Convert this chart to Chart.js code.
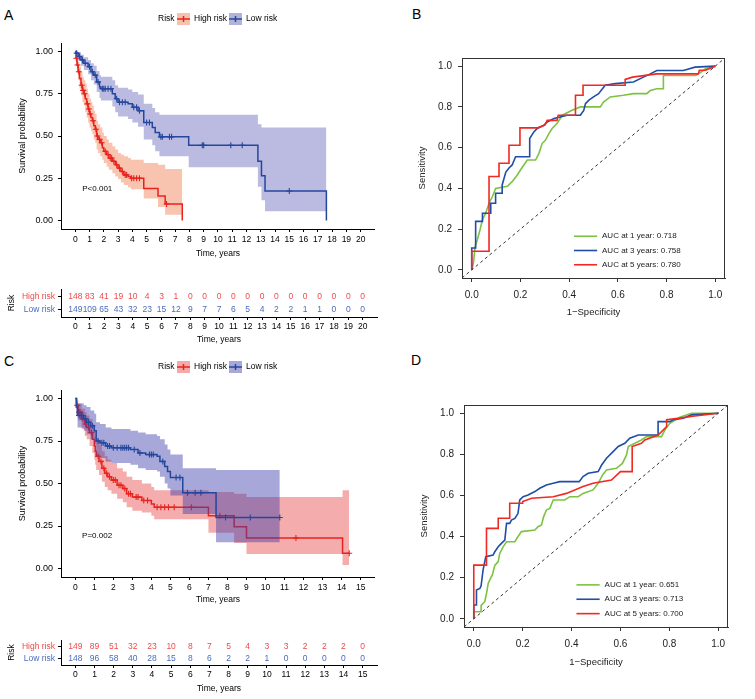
<!DOCTYPE html>
<html>
<head>
<meta charset="utf-8">
<script src="https://cdn.jsdelivr.net/npm/chart.js@4"></script>
<style>
body { margin: 0; background: #fff; width: 755px; height: 699px; position: relative; overflow: hidden; font-family: "Liberation Sans", Arial, sans-serif; }
canvas { position: absolute; }
.lab { position: absolute; font-size: 14px; line-height: 14px; color: #000; }
</style>
</head>
<body>
<div class="lab" style="left:4px;top:8px">A</div>
<div class="lab" style="left:412px;top:7px">B</div>
<div class="lab" style="left:4px;top:354px">C</div>
<div class="lab" style="left:411px;top:353px">D</div>

<canvas id="kmA" width="380" height="261" style="left:0;top:0"></canvas>
<canvas id="riskA" width="380" height="75" style="left:0;top:270px"></canvas>
<canvas id="kmC" width="380" height="265" style="left:0;top:340px"></canvas>
<canvas id="riskC" width="380" height="72" style="left:0;top:622px"></canvas>
<canvas id="rocB" width="375" height="318" style="left:380px;top:0"></canvas>
<canvas id="rocD" width="375" height="328" style="left:380px;top:340px"></canvas>

<script>
// ---- data ----
var groups = ['High risk', 'Low risk'];

// panel A, Kaplan-Meier
var aHighT  = [0,0.05,0.12,0.2,0.3,0.4,0.5,0.6,0.7,0.8,0.9,1.0,1.1,1.2,1.3,1.4,1.5,1.6,1.75,1.9,2.0,2.2,2.35,2.6,2.8,3.0,3.2,3.4,3.7,3.9,4.8,5.8,6.3,7.5];
var aHighS  = [1,0.96,0.92,0.88,0.84,0.80,0.77,0.75,0.72,0.69,0.66,0.63,0.61,0.59,0.56,0.54,0.50,0.48,0.46,0.43,0.41,0.39,0.37,0.35,0.33,0.31,0.29,0.27,0.26,0.25,0.19,0.145,0.098,0];
var aHighUp = [1,0.99,0.97,0.94,0.91,0.88,0.85,0.83,0.81,0.78,0.75,0.72,0.70,0.68,0.65,0.63,0.59,0.57,0.55,0.52,0.50,0.48,0.46,0.44,0.42,0.40,0.39,0.38,0.37,0.36,0.34,0.33,0.305,0.305];
var aHighLo = [1,0.93,0.88,0.83,0.78,0.74,0.70,0.68,0.64,0.61,0.58,0.55,0.53,0.51,0.48,0.46,0.42,0.40,0.38,0.36,0.34,0.32,0.30,0.28,0.26,0.245,0.225,0.21,0.195,0.185,0.13,0.08,0.035,0.035];
var aHighCensT = [0.08,0.16,0.25,0.45,0.55,0.65,0.85,0.95,1.05,1.25,1.45,1.55,1.7,1.85,2.1,2.3,2.45,2.55,2.7,2.9,3.1,3.3,3.5,3.6,3.95,4.1,4.3,4.5,6.4];
var aHighCensS = [0.96,0.92,0.88,0.80,0.77,0.75,0.69,0.66,0.63,0.59,0.54,0.50,0.48,0.46,0.41,0.39,0.37,0.37,0.35,0.33,0.31,0.29,0.27,0.27,0.25,0.25,0.25,0.25,0.098];

var aLowT  = [0,0.05,0.2,0.4,0.6,0.9,1.1,1.3,1.5,1.7,1.8,2.6,2.8,3.0,3.7,4.0,4.4,4.8,5.4,5.6,5.9,7.95,12.8,13.05,13.3,17.6];
var aLowS  = [1,0.99,0.97,0.95,0.93,0.91,0.88,0.86,0.82,0.79,0.78,0.75,0.72,0.70,0.69,0.67,0.65,0.58,0.55,0.52,0.495,0.445,0.35,0.265,0.175,0];
var aLowUp = [1,1,0.995,0.98,0.965,0.95,0.93,0.915,0.885,0.86,0.85,0.83,0.80,0.785,0.775,0.76,0.745,0.69,0.665,0.64,0.625,0.625,0.57,0.55,0.55,0.55];
var aLowLo = [1,0.97,0.945,0.915,0.89,0.865,0.83,0.805,0.76,0.725,0.71,0.675,0.64,0.615,0.60,0.58,0.555,0.48,0.445,0.41,0.38,0.315,0.20,0.12,0.055,0.055];
var aLowCensT = [0.1,0.3,0.5,0.7,1.0,1.2,1.4,1.6,1.9,2.0,2.1,2.3,2.5,2.9,3.1,3.3,3.5,4.1,4.3,4.5,5.0,5.2,6.0,6.1,6.6,6.75,8.9,9.0,10.9,11.7,15.0];
var aLowCensS = [0.99,0.97,0.95,0.93,0.91,0.88,0.86,0.82,0.78,0.78,0.78,0.78,0.78,0.72,0.70,0.70,0.70,0.67,0.67,0.65,0.58,0.58,0.495,0.495,0.495,0.495,0.445,0.445,0.445,0.445,0.175];

var riskTimesA = [0,1,2,3,4,5,6,7,8,9,10,11,12,13,14,15,16,17,18,19,20];
var aHighRisk = [148,83,41,19,10,4,3,1,0,0,0,0,0,0,0,0,0,0,0,0,0];
var aLowRisk  = [149,109,65,43,32,23,15,12,9,7,7,6,5,4,2,2,1,1,0,0,0];

// panel C, Kaplan-Meier
var cHighT  = [0,0.07,0.16,0.33,0.5,0.6,0.75,0.9,1.0,1.05,1.1,1.25,1.4,1.55,1.7,1.9,2.2,2.5,2.7,3.0,3.5,4.0,4.15,7.0,8.35,9.0,14.05,14.4];
var cHighS  = [1,0.96,0.92,0.88,0.85,0.83,0.80,0.76,0.72,0.69,0.66,0.63,0.59,0.56,0.54,0.52,0.49,0.47,0.44,0.42,0.40,0.38,0.36,0.31,0.245,0.18,0.09,0.09];
var cHighUp = [1,0.99,0.97,0.94,0.92,0.90,0.88,0.85,0.81,0.78,0.76,0.73,0.69,0.66,0.64,0.62,0.59,0.57,0.54,0.52,0.50,0.48,0.46,0.45,0.44,0.42,0.46,0.46];
var cHighLo = [1,0.93,0.87,0.82,0.78,0.76,0.72,0.68,0.64,0.61,0.58,0.55,0.51,0.48,0.46,0.44,0.41,0.39,0.36,0.34,0.33,0.31,0.29,0.21,0.15,0.085,0.02,0.02];
var cHighCensT = [0.1,0.2,0.25,0.4,0.55,0.7,0.85,1.2,1.35,1.5,1.65,1.8,2.0,2.1,2.3,2.4,2.6,2.8,2.9,3.2,3.3,3.6,3.8,4.3,4.5,4.7,4.9,5.2,6.1,7.6,11.6,14.4];
var cHighCensS = [0.96,0.92,0.92,0.88,0.85,0.83,0.80,0.66,0.63,0.59,0.56,0.54,0.52,0.52,0.49,0.49,0.47,0.44,0.44,0.42,0.42,0.40,0.40,0.36,0.36,0.36,0.36,0.36,0.36,0.31,0.18,0.09];

var cLowT  = [0,0.05,0.12,0.45,0.6,0.8,1.0,1.1,1.3,1.6,1.9,2.9,3.3,3.7,4.3,4.45,4.7,4.85,5.0,5.65,7.4,10.75];
var cLowS  = [1,0.95,0.90,0.88,0.86,0.84,0.81,0.75,0.74,0.72,0.71,0.70,0.68,0.67,0.66,0.63,0.60,0.57,0.535,0.445,0.30,0.30];
var cLowUp = [1,1,0.97,0.96,0.95,0.93,0.91,0.86,0.85,0.83,0.82,0.81,0.80,0.79,0.78,0.76,0.73,0.70,0.67,0.59,0.58,0.58];
var cLowLo = [1,0.90,0.83,0.81,0.79,0.76,0.73,0.66,0.65,0.63,0.62,0.61,0.59,0.58,0.57,0.54,0.50,0.47,0.43,0.32,0.155,0.155];
var cLowCensT = [0.2,0.3,0.4,0.55,0.7,0.9,1.2,1.4,1.5,1.7,1.8,2.0,2.2,2.4,2.5,2.6,2.7,2.8,3.1,3.4,3.9,4.0,4.1,4.6,5.3,5.5,5.9,6.3,6.6,7.9,9.2,10.75];
var cLowCensS = [0.90,0.90,0.90,0.88,0.86,0.84,0.75,0.74,0.74,0.72,0.72,0.71,0.71,0.71,0.71,0.71,0.71,0.71,0.70,0.68,0.67,0.67,0.67,0.63,0.535,0.535,0.445,0.445,0.445,0.30,0.30,0.30];

var riskTimesC = [0,1,2,3,4,5,6,7,8,9,10,11,12,13,14,15];
var cHighRisk = [149,89,51,32,23,10,8,7,5,4,3,3,2,2,2,0];
var cLowRisk  = [148,96,58,40,28,15,8,6,2,2,1,0,0,0,0,0];

// panel B, time-dependent ROC
var rocLabelsB = ['AUC at 1 year: 0.718', 'AUC at 3 years: 0.758', 'AUC at 5 years: 0.780'];
var bGreenFpr = [0,0.007,0.014,0.023,0.034,0.044,0.057,0.071,0.085,0.098,0.146,0.166,0.187,0.2,0.214,0.228,0.262,0.276,0.289,0.303,0.317,0.33,0.35,0.372,0.412,0.446,0.528,0.541,0.569,0.623,0.664,0.719,0.733,0.76,0.787,0.787,0.92,0.94,0.96,1];
var bGreenTpr = [0,0.034,0.116,0.148,0.197,0.246,0.278,0.327,0.36,0.40,0.41,0.433,0.466,0.49,0.515,0.539,0.539,0.572,0.62,0.637,0.669,0.694,0.718,0.759,0.783,0.80,0.80,0.824,0.849,0.857,0.865,0.865,0.88,0.889,0.889,0.954,0.954,0.97,0.987,1];
var bBlueFpr = [0,0,0.016,0.016,0.044,0.044,0.078,0.078,0.098,0.098,0.125,0.125,0.14,0.153,0.166,0.18,0.238,0.238,0.255,0.269,0.296,0.31,0.337,0.392,0.446,0.46,0.467,0.48,0.5,0.521,0.548,0.589,0.664,0.705,0.733,0.76,0.869,0.917,1];
var bBlueTpr = [0,0.107,0.107,0.238,0.238,0.278,0.278,0.327,0.327,0.376,0.376,0.417,0.48,0.50,0.515,0.555,0.555,0.645,0.677,0.694,0.71,0.726,0.743,0.759,0.759,0.783,0.816,0.832,0.849,0.865,0.906,0.914,0.922,0.946,0.962,0.979,0.979,0.995,1];
var bRedFpr = [0,0,0.071,0.071,0.112,0.112,0.153,0.153,0.198,0.198,0.27,0.3,0.31,0.35,0.355,0.426,0.426,0.457,0.457,0.63,0.63,0.66,0.76,0.93,0.935,0.96,1];
var bRedTpr = [0,0.091,0.091,0.458,0.458,0.523,0.523,0.612,0.612,0.697,0.697,0.71,0.734,0.734,0.759,0.759,0.857,0.857,0.906,0.906,0.935,0.946,0.962,0.962,0.98,0.98,1];

// panel D, time-dependent ROC
var rocLabelsD = ['AUC at 1 year: 0.651', 'AUC at 3 years: 0.713', 'AUC at 5 years: 0.700'];
var dGreenFpr = [0,0,0.03,0.03,0.045,0.052,0.059,0.065,0.076,0.086,0.1,0.106,0.12,0.134,0.168,0.181,0.195,0.25,0.263,0.277,0.286,0.297,0.311,0.325,0.372,0.393,0.427,0.447,0.488,0.509,0.527,0.543,0.584,0.608,0.625,0.632,0.659,0.686,0.707,0.768,0.782,0.802,0.843,0.891,1];
var dGreenTpr = [0,0.034,0.034,0.065,0.083,0.123,0.172,0.188,0.213,0.26,0.278,0.318,0.35,0.375,0.375,0.40,0.424,0.432,0.448,0.456,0.497,0.529,0.537,0.578,0.578,0.594,0.594,0.61,0.627,0.659,0.70,0.724,0.732,0.756,0.797,0.838,0.854,0.87,0.886,0.886,0.919,0.951,0.98,1,1];
var dBlueFpr = [0,0,0.011,0.011,0.025,0.03,0.038,0.049,0.079,0.086,0.1,0.113,0.127,0.134,0.147,0.154,0.168,0.181,0.188,0.202,0.222,0.25,0.27,0.297,0.325,0.352,0.431,0.447,0.468,0.509,0.523,0.543,0.57,0.591,0.618,0.638,0.673,0.754,0.754,0.802,0.816,0.857,0.891,1];
var dBlueTpr = [0,0.067,0.067,0.14,0.148,0.16,0.237,0.302,0.31,0.326,0.35,0.367,0.383,0.464,0.464,0.48,0.488,0.513,0.578,0.594,0.602,0.619,0.635,0.651,0.659,0.667,0.667,0.692,0.708,0.716,0.748,0.781,0.813,0.838,0.854,0.878,0.894,0.894,0.959,0.959,0.968,0.976,0.992,1];
var dRedFpr = [0,0,0.052,0.052,0.1,0.1,0.147,0.147,0.2,0.2,0.237,0.325,0.379,0.447,0.488,0.563,0.6,0.648,0.648,0.686,0.7,0.754,0.789,0.789,0.843,0.896,1];
var dRedTpr = [0,0.261,0.261,0.44,0.44,0.489,0.489,0.562,0.562,0.57,0.586,0.594,0.61,0.643,0.659,0.675,0.716,0.716,0.838,0.854,0.87,0.894,0.935,0.968,0.976,0.985,1];

var kmYTicks = [0, 0.25, 0.5, 0.75, 1];
var rocTicks = [0, 0.2, 0.4, 0.6, 0.8, 1];

// ---- styles ----
var FONT = '"Liberation Sans", Arial, sans-serif';
Chart.defaults.font.family = FONT;
Chart.defaults.font.size = 9;
Chart.defaults.color = '#000';

var RED = '#E8231F';
var BLUE = '#24479D';
var RED_TXT = '#F04A4A';
var BLUE_TXT = '#4A6CBE';
var ROC_GREEN = '#7DC242';
var ROC_BLUE = '#1F4DA8';
var ROC_RED = '#F02A22';

function pts(xs, ys) {
  return xs.map(function (x, i) { return { x: x, y: ys[i] }; });
}
function setTicks(list) {
  return function (s) { s.ticks = list.map(function (v) { return { value: v }; }); };
}

// legend "Risk  [+] High risk  [+] Low risk" above the KM plots
var kmLegend = {
  id: 'kmLegend',
  afterDraw: function (chart, args, o) {
    if (!o.items) return;
    var ctx = chart.ctx;
    ctx.save();
    ctx.font = '8.5px ' + FONT;
    ctx.textBaseline = 'middle';
    ctx.fillStyle = '#000';
    ctx.fillText('Risk', o.x, o.y);
    o.items.forEach(function (it, i) {
      ctx.fillStyle = it.fill;
      ctx.fillRect(it.x, o.y - 6, 13, 12);
      ctx.strokeStyle = it.line;
      ctx.lineWidth = 1.5;
      ctx.beginPath();
      ctx.moveTo(it.x, o.y); ctx.lineTo(it.x + 13, o.y);
      ctx.moveTo(it.x + 6.5, o.y - 3); ctx.lineTo(it.x + 6.5, o.y + 3);
      ctx.stroke();
      ctx.fillStyle = '#000';
      ctx.fillText(groups[i], it.x + 17, o.y);
    });
    ctx.restore();
  }
};

var pLabel = {
  id: 'pLabel',
  afterDatasetsDraw: function (chart, args, o) {
    if (!o.text) return;
    var ctx = chart.ctx;
    ctx.save();
    ctx.font = '8px ' + FONT;
    ctx.textBaseline = 'middle';
    ctx.fillStyle = '#000';
    ctx.fillText(o.text, chart.scales.x.getPixelForValue(o.at[0]), chart.scales.y.getPixelForValue(o.at[1]));
    ctx.restore();
  }
};

var riskNumbers = {
  id: 'riskNumbers',
  afterDatasetsDraw: function (chart) {
    var ctx = chart.ctx;
    ctx.save();
    ctx.font = '8.5px ' + FONT;
    ctx.textAlign = 'center';
    ctx.textBaseline = 'middle';
    chart.data.datasets.forEach(function (ds, i) {
      ctx.fillStyle = ds.textColor;
      chart.getDatasetMeta(i).data.forEach(function (p, j) {
        ctx.fillText(String(ds.counts[j]), p.x, p.y);
      });
    });
    ctx.restore();
  }
};

var rocLegend = {
  id: 'rocLegend',
  afterDatasetsDraw: function (chart, args, o) {
    if (!o.rows) return;
    var ctx = chart.ctx, xs = chart.scales.x, ys = chart.scales.y;
    ctx.save();
    ctx.font = '8px ' + FONT;
    ctx.textBaseline = 'middle';
    o.rows.forEach(function (r, i) {
      var ds = chart.data.datasets[i];
      var py = ys.getPixelForValue(r);
      ctx.strokeStyle = ds.borderColor;
      ctx.lineWidth = 1.6;
      ctx.beginPath();
      ctx.moveTo(xs.getPixelForValue(o.x0), py);
      ctx.lineTo(xs.getPixelForValue(o.x1), py);
      ctx.stroke();
      ctx.fillStyle = '#222';
      ctx.fillText(ds.label, xs.getPixelForValue(o.tx), py);
    });
    ctx.restore();
  }
};

var boxBorder = {
  id: 'boxBorder',
  afterDraw: function (chart) {
    var a = chart.chartArea, ctx = chart.ctx;
    ctx.save();
    ctx.strokeStyle = '#333';
    ctx.lineWidth = 1;
    ctx.strokeRect(a.left + 0.5, a.top + 0.5, a.right - a.left - 1, a.bottom - a.top);
    ctx.restore();
  }
};

function band(xs, ys, fill, color) {
  return { data: pts(xs, ys), stepped: true, borderWidth: 0, borderColor: 'transparent',
           pointRadius: 0, fill: fill, backgroundColor: color };
}

// index 0 is painted last: low-risk group over high-risk group, each line over its own band
function kmChart(id, o) {
  return new Chart(document.getElementById(id), {
    type: 'line',
    data: {
      datasets: [
        { label: groups[1], data: pts(o.loT, o.loS), stepped: true, borderColor: BLUE, borderWidth: 1.5, pointRadius: 0, fill: false },
        { data: pts(o.loCT, o.loCS), showLine: false, pointStyle: 'cross', pointRadius: 3, pointBorderColor: BLUE, pointBorderWidth: 1.1, borderColor: BLUE },
        band(o.loT, o.loUp, false, null),
        band(o.loT, o.loLo, '-1', o.loBand),
        { label: groups[0], data: pts(o.hiT, o.hiS), stepped: true, borderColor: RED, borderWidth: 1.5, pointRadius: 0, fill: false },
        { data: pts(o.hiCT, o.hiCS), showLine: false, pointStyle: 'cross', pointRadius: 3, pointBorderColor: RED, pointBorderWidth: 1.1, borderColor: RED },
        band(o.hiT, o.hiUp, false, null),
        band(o.hiT, o.hiLo, '-1', o.hiBand)
      ]
    },
    options: {
      responsive: false, animation: false, devicePixelRatio: 1,
      layout: { padding: { top: o.padTop, right: 3, left: 0, bottom: 0 } },
      plugins: {
        legend: { display: false }, tooltip: { enabled: false },
        kmLegend: { x: 158, y: o.legendY, items: [{ x: 177, line: RED, fill: o.hiSwatch }, { x: 229, line: BLUE, fill: o.loSwatch }] },
        pLabel: { text: o.pText, at: o.pAt }
      },
      scales: {
        x: {
          type: 'linear', min: o.xMin, max: o.xMax,
          afterBuildTicks: setTicks(o.xTicks),
          afterFit: function (s) { s.height = o.xH; },
          grid: { drawOnChartArea: false, tickLength: 3, color: '#000' },
          border: { color: '#000' },
          ticks: { font: { size: 8.5 }, padding: 3, maxRotation: 0, autoSkip: false, color: '#000' },
          title: { display: true, text: 'Time, years', font: { size: 8.5 }, padding: { top: 0, bottom: o.xTitlePad } }
        },
        y: {
          min: -0.05, max: 1.05,
          afterBuildTicks: setTicks(kmYTicks),
          afterFit: function (s) { s.width = 61; },
          grid: { drawOnChartArea: false, tickLength: 3, color: '#000' },
          border: { color: '#000' },
          ticks: { font: { size: 9 }, padding: 5, color: '#000', callback: function (v) { return v.toFixed(2); } },
          title: { display: true, text: 'Survival probability', font: { size: 9 }, padding: { top: 17, bottom: 0 } }
        }
      }
    },
    plugins: [kmLegend, pLabel]
  });
}

function riskChart(id, o) {
  return new Chart(document.getElementById(id), {
    type: 'scatter',
    data: {
      datasets: [
        { label: groups[0], data: o.times.map(function (t) { return { x: t, y: 2 }; }), counts: o.hi, textColor: RED_TXT, pointRadius: 0 },
        { label: groups[1], data: o.times.map(function (t) { return { x: t, y: 1 }; }), counts: o.lo, textColor: BLUE_TXT, pointRadius: 0 }
      ]
    },
    options: {
      responsive: false, animation: false, devicePixelRatio: 1,
      layout: { padding: { top: o.padTop, right: 3, left: 0, bottom: 0 } },
      plugins: { legend: { display: false }, tooltip: { enabled: false } },
      scales: {
        x: {
          type: 'linear', min: o.xMin, max: o.xMax,
          afterBuildTicks: setTicks(o.times),
          afterFit: function (s) { s.height = o.xH; },
          grid: { drawOnChartArea: false, tickLength: 3, color: '#000' },
          border: { color: '#000' },
          ticks: { font: { size: 8.5 }, padding: 2, maxRotation: 0, autoSkip: false, color: '#000' },
          title: { display: true, text: 'Time, years', font: { size: 8.5 }, padding: { top: 0, bottom: 0 } }
        },
        y: {
          min: 0.4, max: 2.6,
          afterBuildTicks: setTicks([1, 2]),
          afterFit: function (s) { s.width = 61; },
          grid: { drawOnChartArea: false, tickLength: 3, color: '#000' },
          border: { color: '#000' },
          ticks: {
            font: { size: 8.5 }, padding: 3,
            color: function (c) { return c.tick && c.tick.value === 2 ? RED_TXT : BLUE_TXT; },
            callback: function (v) { return v === 2 ? groups[0] : groups[1]; }
          },
          title: { display: true, text: 'Risk', font: { size: 8.5 }, padding: { top: 7, bottom: 0 } }
        }
      }
    },
    plugins: [riskNumbers]
  });
}

function rocChart(id, o) {
  var line = function (label, fpr, tpr, color, ord) {
    return { label: label, data: pts(fpr, tpr), borderColor: color, borderWidth: 1.6, pointRadius: 0, fill: false, order: ord, tension: 0 };
  };
  return new Chart(document.getElementById(id), {
    type: 'line',
    data: {
      datasets: [
        line(o.labels[0], o.gF, o.gT, ROC_GREEN, 3),
        line(o.labels[1], o.bF, o.bT, ROC_BLUE, 2),
        line(o.labels[2], o.rF, o.rT, ROC_RED, 1),
        { data: [{ x: -0.04, y: -0.04 }, { x: 1.04, y: 1.04 }], borderColor: '#333', borderWidth: 1, borderDash: [3, 3], pointRadius: 0, fill: false, order: 0 }
      ]
    },
    options: {
      responsive: false, animation: false, devicePixelRatio: 1,
      layout: { padding: { top: o.padTop, right: o.padRight, left: 0, bottom: 0 } },
      plugins: {
        legend: { display: false }, tooltip: { enabled: false },
        rocLegend: { x0: 0.42, x1: 0.515, tx: 0.535, rows: [0.165, 0.095, 0.025] }
      },
      scales: {
        x: {
          type: 'linear', min: -0.04, max: 1.04,
          afterBuildTicks: setTicks(rocTicks),
          afterFit: function (s) { s.height = o.xH; },
          grid: { drawOnChartArea: false, tickLength: 4, color: '#333' },
          border: { color: '#333' },
          ticks: { font: { size: 10 }, padding: 7, color: '#222', maxRotation: 0, callback: function (v) { return v.toFixed(1); } },
          title: { display: true, text: '1\u2212Specificity', font: { size: 9.5 }, color: '#222', padding: { top: 0, bottom: 0 } }
        },
        y: {
          min: -0.04, max: 1.04,
          afterBuildTicks: setTicks(rocTicks),
          afterFit: function (s) { s.width = o.yW; },
          grid: { drawOnChartArea: false, tickLength: 4, color: '#333' },
          border: { color: '#333' },
          ticks: { font: { size: 10 }, padding: 6, color: '#222', callback: function (v) { return v.toFixed(1); } },
          title: { display: true, text: 'Sensitivity', font: { size: 9.5 }, color: '#222', padding: { top: o.yTitlePad, bottom: 0 } }
        }
      }
    },
    plugins: [rocLegend, boxBorder]
  });
}

kmChart('kmA', {
  hiT: aHighT, hiS: aHighS, hiUp: aHighUp, hiLo: aHighLo, hiCT: aHighCensT, hiCS: aHighCensS,
  loT: aLowT, loS: aLowS, loUp: aLowUp, loLo: aLowLo, loCT: aLowCensT, loCS: aLowCensS,
  hiBand: 'rgba(240,125,80,0.45)', loBand: 'rgba(85,85,180,0.4)',
  hiSwatch: '#F7C2AB', loSwatch: '#B2B3DB',
  xMin: -1, xMax: 21, xTicks: riskTimesA, xH: 32, xTitlePad: 2, padTop: 43, legendY: 19,
  pText: 'P<0.001', pAt: [0.49, 0.185]
});
riskChart('riskA', { times: riskTimesA, hi: aHighRisk, lo: aLowRisk, xMin: -1, xMax: 21, xH: 28, padTop: 19 });

kmChart('kmC', {
  hiT: cHighT, hiS: cHighS, hiUp: cHighUp, hiLo: cHighLo, hiCT: cHighCensT, hiCS: cHighCensS,
  loT: cLowT, loS: cLowS, loUp: cLowUp, loLo: cLowLo, loCT: cLowCensT, loCS: cLowCensS,
  hiBand: 'rgba(230,70,70,0.45)', loBand: 'rgba(60,60,170,0.45)',
  hiSwatch: '#F3AAA9', loSwatch: '#A8A8D8',
  xMin: -0.75, xMax: 15.75, xTicks: riskTimesC, xH: 28, xTitlePad: 0, padTop: 50, legendY: 27,
  pText: 'P=0.002', pAt: [0.36, 0.194]
});
riskChart('riskC', { times: riskTimesC, hi: cHighRisk, lo: cLowRisk, xMin: -0.75, xMax: 15.75, xH: 29, padTop: 18 });

rocChart('rocB', {
  labels: rocLabelsB, gF: bGreenFpr, gT: bGreenTpr, bF: bBlueFpr, bT: bBlueTpr, rF: bRedFpr, rT: bRedTpr,
  padTop: 58, padRight: 30, yW: 82, xH: 40, yTitlePad: 37
});
rocChart('rocD', {
  labels: rocLabelsD, gF: dGreenFpr, gT: dGreenTpr, bF: dBlueFpr, bT: dBlueTpr, rF: dRedFpr, rT: dRedTpr,
  padTop: 65, padRight: 27, yW: 84, xH: 41, yTitlePad: 39
});
</script>
</body>
</html>
